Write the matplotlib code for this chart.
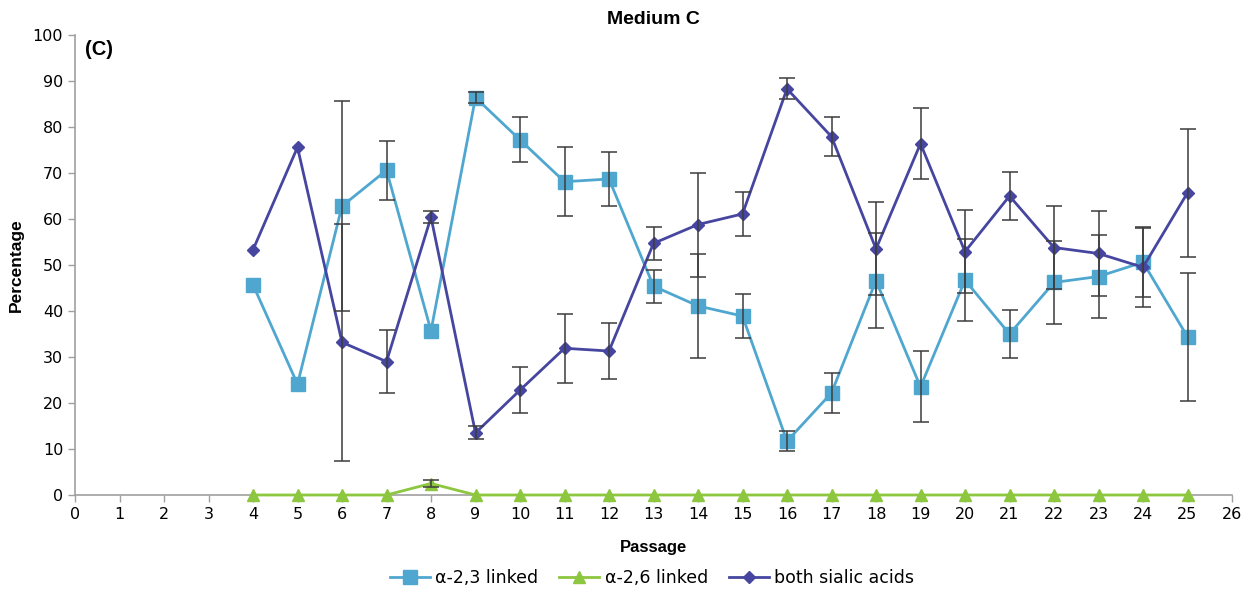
import numpy as np
import matplotlib.pyplot as plt

# Passage numbers
passage = [4, 5, 6, 7, 8, 9, 10, 11, 12, 13, 14, 15, 16, 17, 18, 19, 20, 21, 22, 23, 24, 25]

# alpha-2,3 linked (mean and error)
a23 = [45.7, 24.1, 62.8, 70.6, 35.7, 86.4, 77.2, 68.1, 68.7, 45.4, 41.1, 38.9,
       11.7, 22.2, 46.6, 23.5, 46.7, 35.0, 46.2, 47.5, 50.6, 34.4]
a23_err = [0, 0, 22.8, 6.4, 0, 1.2, 4.9, 7.5, 5.8, 3.6, 11.3, 4.7,
           2.2, 4.4, 10.3, 7.7, 8.9, 5.2, 9.0, 9.0, 7.5, 13.9]

# alpha-2,6 linked
a26 = [0, 0, 0, 0, 2.5, 0, 0, 0, 0, 0, 0, 0,
       0, 0, 0, 0, 0, 0, 0, 0, 0, 0]
a26_err = [0, 0, 0, 0, 0.8, 0, 0, 0, 0, 0, 0, 0,
           0, 0, 0, 0, 0, 0, 0, 0, 0, 0]

# both sialic acids
both = [53.3, 75.6, 33.2, 29.0, 60.4, 13.5, 22.8, 31.9, 31.3, 54.7, 58.8, 61.1,
        88.3, 77.9, 53.5, 76.4, 52.9, 65.0, 53.8, 52.5, 49.5, 65.7]
both_err = [0, 0, 25.7, 6.9, 1.3, 1.4, 5.0, 7.5, 6.0, 3.6, 11.3, 4.8,
            2.3, 4.3, 10.1, 7.7, 9.0, 5.2, 9.1, 9.2, 8.7, 13.9]

c23 = '#4FA7D0'
c26 = '#8DC63F'
cboth = '#4646A0'
ecol = '#3C3C3C'

fig = plt.figure(figsize=(12.54, 5.92), dpi=100)
ax = fig.add_axes([75 / 1254, 1 - 495 / 592, (1232 - 75) / 1254, (495 - 35) / 592])

for y, e, c, m, ms, lab in [
        (a23, a23_err, c23, 's', 10, 'α-2,3 linked'),
        (a26, a26_err, c26, '^', 9, 'α-2,6 linked'),
        (both, both_err, cboth, 'D', 6.5, 'both sialic acids')]:
    # skip zero-length error bars
    px = [p for p, ee in zip(passage, e) if ee > 0]
    py = [v for v, ee in zip(y, e) if ee > 0]
    pe = [ee for ee in e if ee > 0]
    ax.errorbar(px, py, yerr=pe, fmt='none', ecolor=ecol, elinewidth=1.1,
                capsize=6, capthick=1.1, zorder=4)
    ax.plot(passage, y, color=c, marker=m, markersize=ms, linewidth=2,
            markeredgecolor=c, label=lab, zorder=3, clip_on=False)

ax.set_xlim(0, 26)
ax.set_ylim(0, 100)
ax.set_xticks(range(0, 27))
ax.set_yticks(range(0, 101, 10))
ax.tick_params(labelsize=11.5, color='#A0A0A0', length=5, width=1)
for s in ['top', 'right']:
    ax.spines[s].set_visible(False)
for s in ['left', 'bottom']:
    ax.spines[s].set_color('#A0A0A0')
    ax.spines[s].set_linewidth(1.2)
    ax.spines[s].set_zorder(1)

ax.set_title('Medium C', fontsize=14, fontweight='bold', family='Liberation Sans', pad=8)
ax.set_xlabel('Passage', fontsize=12, fontweight='bold', family='Liberation Sans', labelpad=13)
ax.set_ylabel('Percentage', fontsize=12.5, fontweight='bold', family='Liberation Sans', labelpad=6)
ax.text(0.009, 0.99, '(C)', transform=ax.transAxes, fontsize=14.5, fontweight='bold',
        family='Liberation Sans', va='top', ha='left')

fig.legend(loc='center', bbox_to_anchor=(0.52, 1 - 578 / 592), ncol=3, frameon=False,
           fontsize=12.5, handlelength=2.3, columnspacing=1.2, handletextpad=0.3)

fig.savefig('out.png', dpi=100)
